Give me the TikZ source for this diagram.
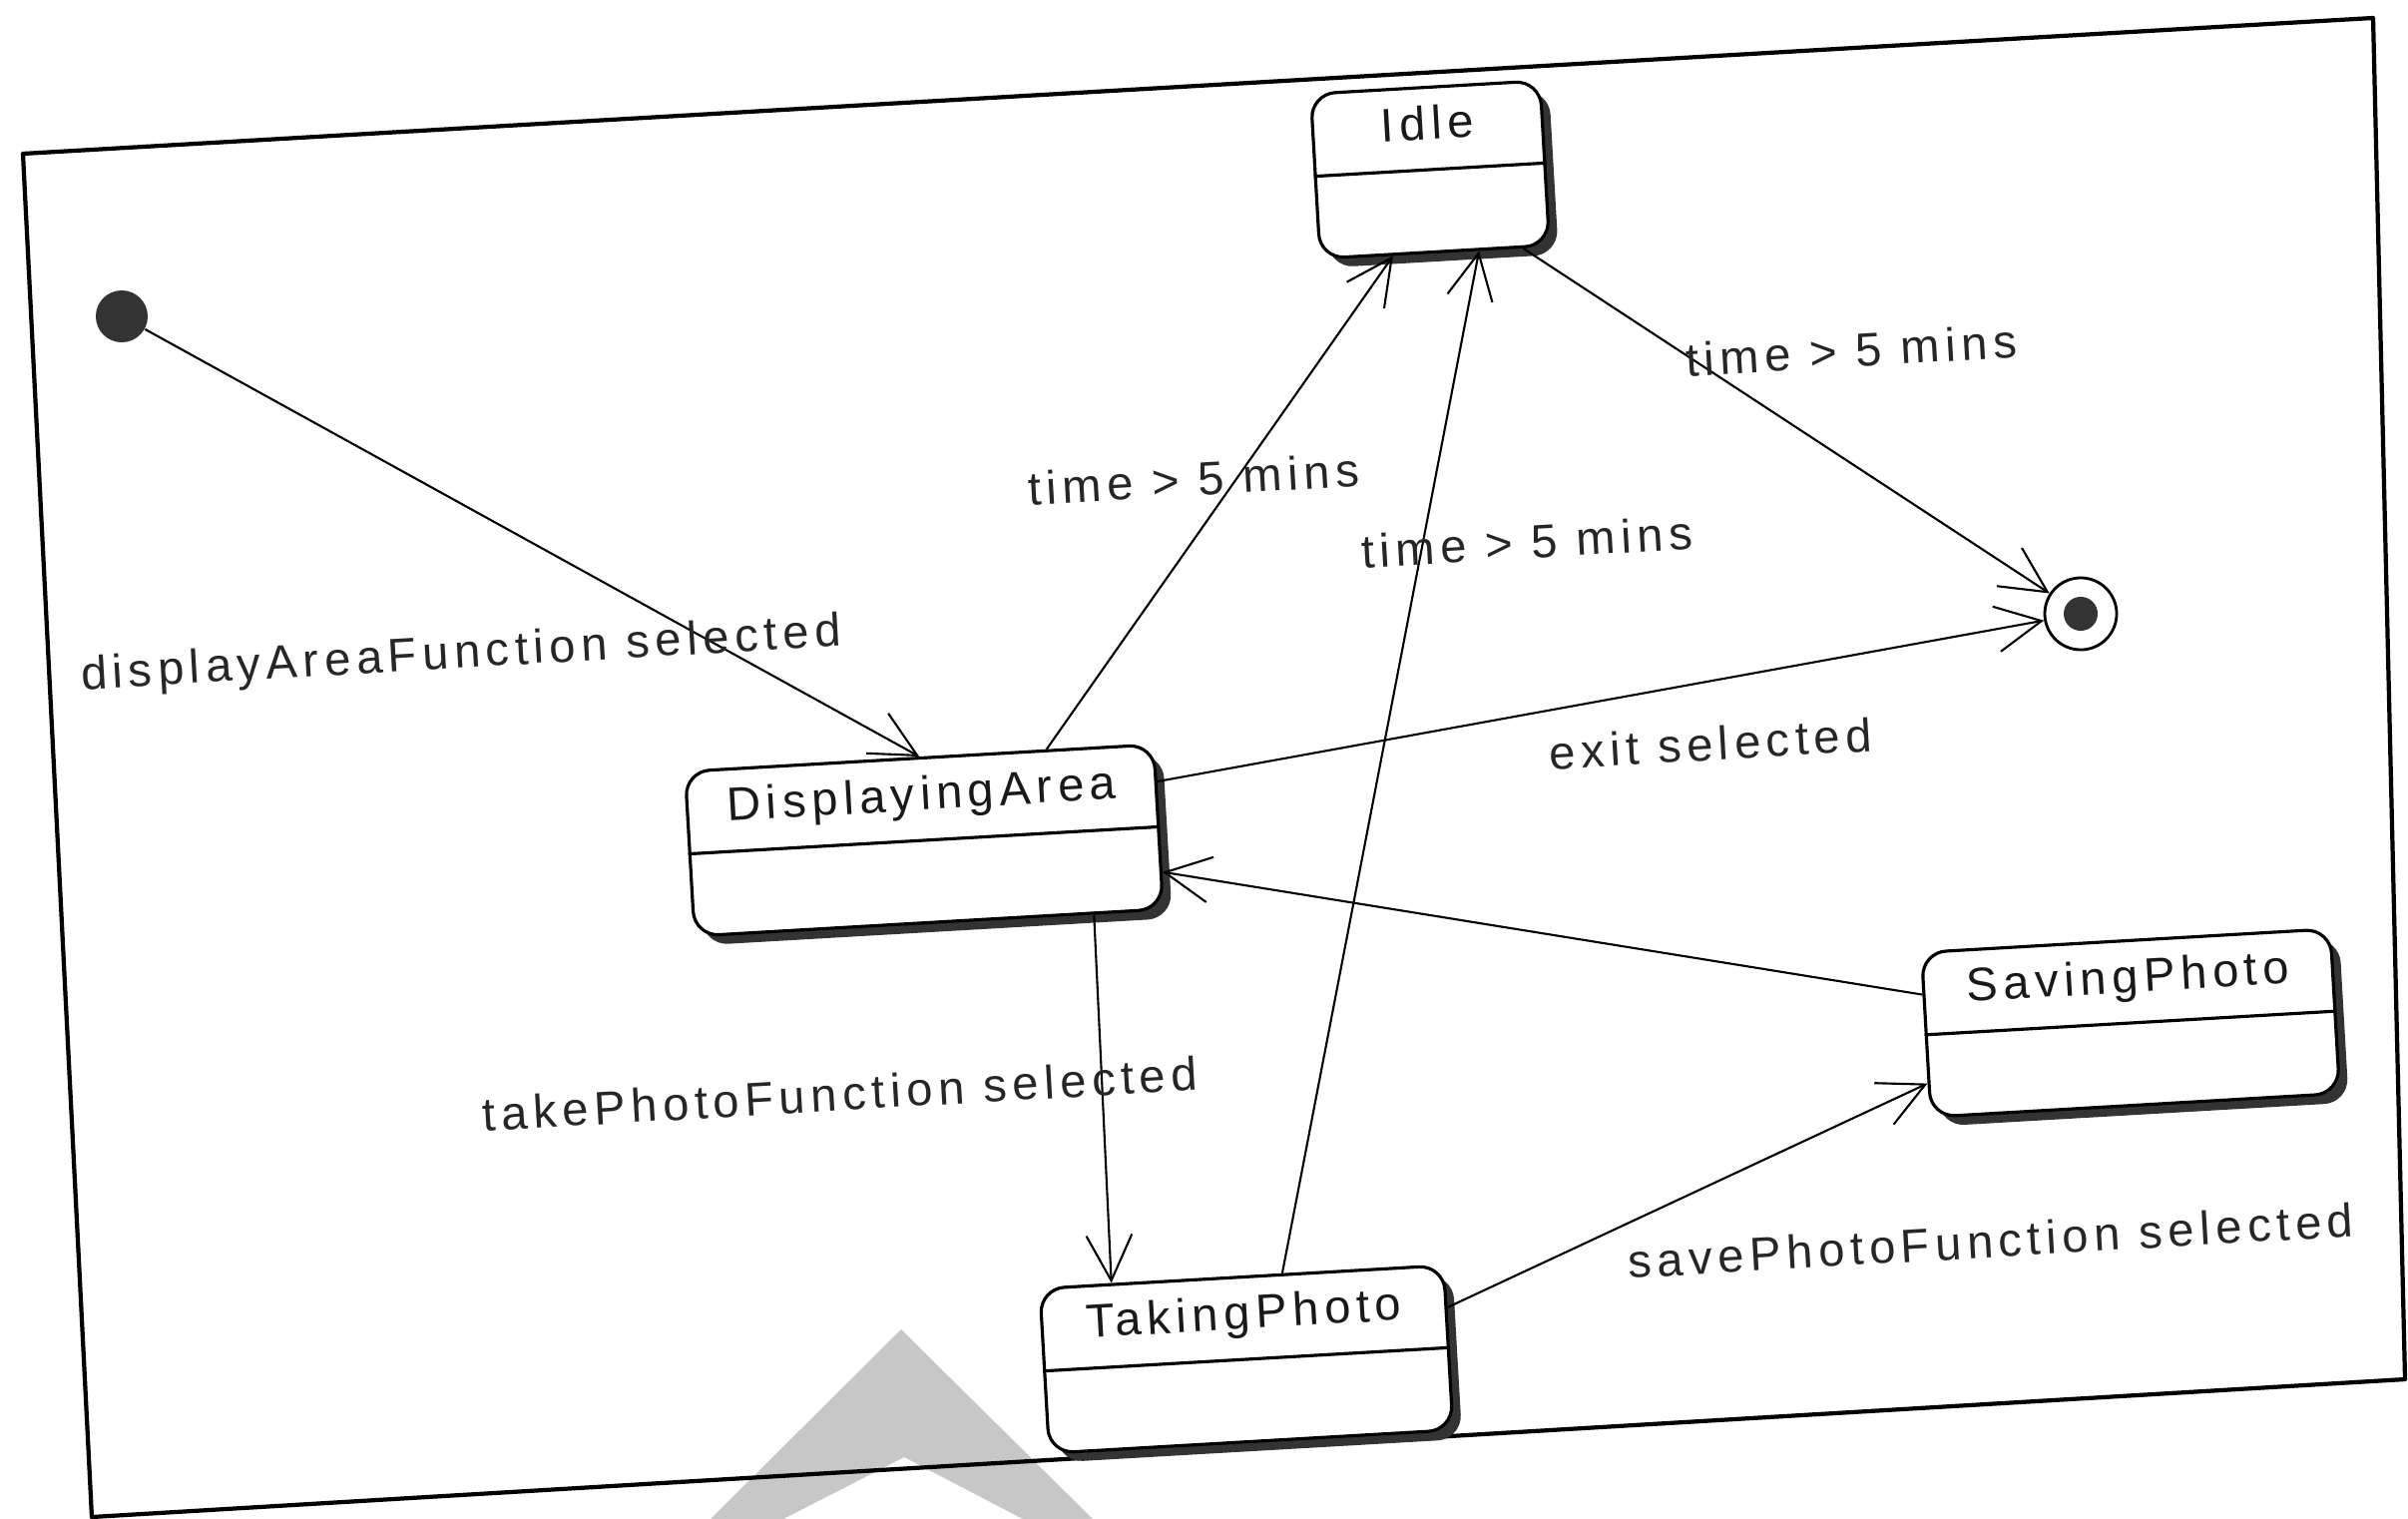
\documentclass[tikz,border=0pt]{standalone}
\usepackage{fontspec}
\setmainfont{Liberation Sans}[LetterSpace=12]
\usetikzlibrary{arrows.meta,shadows,calc}
\newcommand\diagfont{\fontsize{13.4pt}{15pt}\selectfont}
\begin{document}
\begin{tikzpicture}[x=0.01cm,y=-0.01cm,
  statebox/.style={draw, fill=white, line width=0.9pt, rounded corners=7pt,
    inner sep=0pt, minimum height=1.65cm, text height=0.52cm, text depth=1.13cm,
    font=\diagfont, text=black!90, rotate=3.3,
    drop shadow={shadow xshift=2.6pt, shadow yshift=-2.6pt, fill=black!80, opacity=1}},
  divider/.style={line width=0.9pt},
  guard/.style={rotate=3.3, inner sep=0pt, font=\diagfont, text=black!85},
  trans/.style={line width=0.6pt, -{Straight Barb[length=13pt,width=13pt,line width=0.6pt]}},
  initial/.style={circle, fill=black!80, minimum size=0.52cm, inner sep=0pt},
  finalring/.style={circle, draw, line width=0.8pt, fill=white, minimum size=0.72cm, inner sep=0pt},
  finaldot/.style={circle, fill=black!80, minimum size=0.34cm, inner sep=0pt},
  frameline/.style={line width=1.2pt, line join=round}
]
% page
\path[use as bounding box, fill=white] (0,0) rectangle (2413,1522);

% grey wedge at the bottom edge
\fill[black!22, even odd rule] (712,1522) -- (903,1332) -- (1095,1522) -- cycle
  (785,1522) -- (906,1460) -- (1025,1522) -- cycle;

% diagram frame
\draw[frameline] (23,154) -- (2378,18) -- (2410,1382) -- (92,1520) -- cycle;

% states
\node[initial] (init) at (122,317) {};
\node[statebox, minimum width=2.30cm] (idle) at (1433,170) {Idle};
\node[statebox, minimum width=4.70cm] (disp) at (926,842) {DisplayingArea};
\node[statebox, minimum width=4.05cm] (take) at (1249,1362) {TakingPhoto};
\node[statebox, minimum width=4.10cm] (save) at (2135,1025) {SavingPhoto};
\node[finalring] (final) at (2085,615) {};
\node[finaldot] (finalc) at (final.center) {};

% compartment dividers
\foreach \s in {idle,disp,take,save}
  \draw[divider] (\s.west) -- (\s.east);

% transitions
\draw[trans] (init) -- (disp.north);
\draw[trans] ($(disp.north west)!0.77!(disp.north east)$) -- ($(idle.south west)!0.32!(idle.south east)$);
\draw[trans] ($(take.north west)!0.60!(take.north east)$) -- ($(idle.south west)!0.69!(idle.south east)$);
\draw[trans] ($(idle.south west)!0.88!(idle.south east)$) -- (final);
\draw[trans] ($(disp.north east)!0.23!(disp.south east)$) -- (final);
\draw[trans] ($(save.north west)!0.26!(save.south west)$) -- ($(disp.north east)!0.77!(disp.south east)$);
\draw[trans] ($(disp.south west)!0.85!(disp.south east)$) -- ($(take.north west)!0.18!(take.north east)$);
\draw[trans] ($(take.north east)!0.26!(take.south east)$) -- ($(save.north west)!0.79!(save.south west)$);

% transition labels
\node[guard] (lInit) at (462,657) {displayAreaFunction selected};
\node[guard] (lDaIdle) at (1196,480) {time > 5 mins};
\node[guard] (lTakeIdle) at (1530,543) {time > 5 mins};
\node[guard] (lIdleEnd) at (1855,351) {time > 5 mins};
\node[guard] (lExit) at (1714,745) {exit selected};
\node[guard] (lTake) at (842,1096) {takePhotoFunction selected};
\node[guard] (lSave) at (1995,1243) {savePhotoFunction selected};
\end{tikzpicture}
\end{document}
